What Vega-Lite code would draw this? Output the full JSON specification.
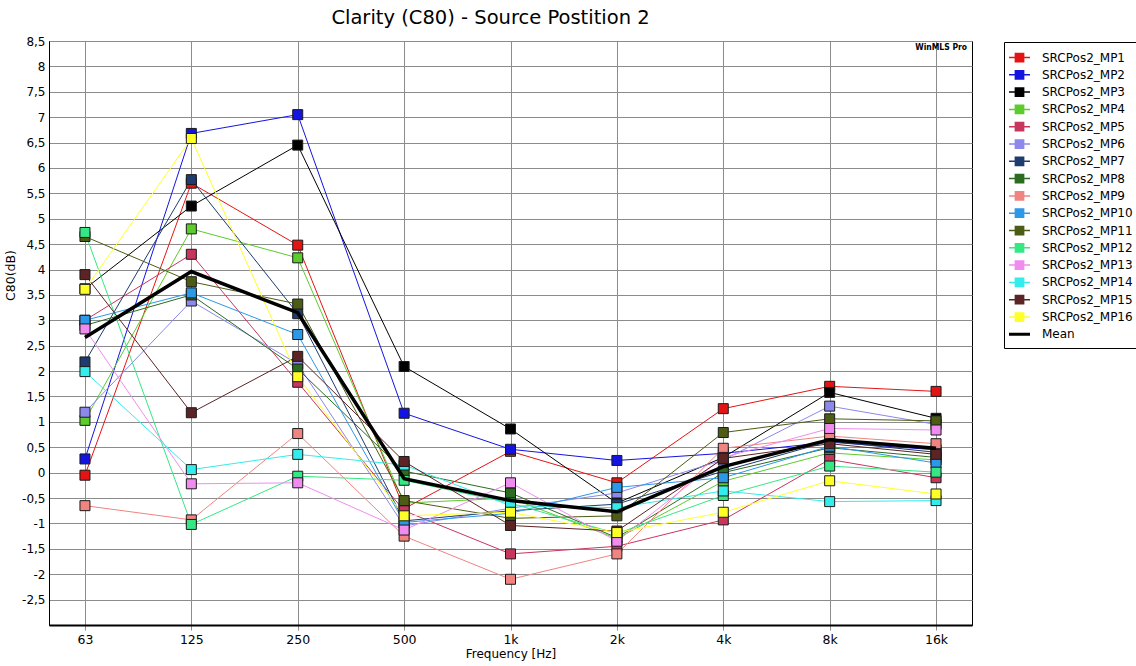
{
  "$schema": "https://vega.github.io/schema/vega-lite/v6.json",
  "width": 923,
  "height": 584,
  "autosize": "none",
  "padding": {"left": 49, "top": 41, "right": 164, "bottom": 41},
  "background": "white",
  "title": {"text": "Clarity (C80) - Source Postition 2", "font": "DejaVu Sans", "fontSize": 19.5, "fontWeight": "normal", "color": "black", "anchor": "middle", "offset": 7, "dx": -20},
  "data": {"values": [
    {"s":"SRCPos2_MP1","f":"63","v":-0.05},{"s":"SRCPos2_MP1","f":"125","v":5.7},{"s":"SRCPos2_MP1","f":"250","v":4.48},{"s":"SRCPos2_MP1","f":"500","v":-0.71},{"s":"SRCPos2_MP1","f":"1k","v":0.42},{"s":"SRCPos2_MP1","f":"2k","v":-0.2},{"s":"SRCPos2_MP1","f":"4k","v":1.26},{"s":"SRCPos2_MP1","f":"8k","v":1.7},{"s":"SRCPos2_MP1","f":"16k","v":1.6},
    {"s":"SRCPos2_MP2","f":"63","v":0.27},{"s":"SRCPos2_MP2","f":"125","v":6.68},{"s":"SRCPos2_MP2","f":"250","v":7.05},{"s":"SRCPos2_MP2","f":"500","v":1.17},{"s":"SRCPos2_MP2","f":"1k","v":0.46},{"s":"SRCPos2_MP2","f":"2k","v":0.24},{"s":"SRCPos2_MP2","f":"4k","v":0.38},{"s":"SRCPos2_MP2","f":"8k","v":0.6},{"s":"SRCPos2_MP2","f":"16k","v":0.45},
    {"s":"SRCPos2_MP3","f":"63","v":3.62},{"s":"SRCPos2_MP3","f":"125","v":5.25},{"s":"SRCPos2_MP3","f":"250","v":6.45},{"s":"SRCPos2_MP3","f":"500","v":2.09},{"s":"SRCPos2_MP3","f":"1k","v":0.86},{"s":"SRCPos2_MP3","f":"2k","v":-0.6},{"s":"SRCPos2_MP3","f":"4k","v":0.3},{"s":"SRCPos2_MP3","f":"8k","v":1.58},{"s":"SRCPos2_MP3","f":"16k","v":1.07},
    {"s":"SRCPos2_MP4","f":"63","v":1.03},{"s":"SRCPos2_MP4","f":"125","v":4.8},{"s":"SRCPos2_MP4","f":"250","v":4.23},{"s":"SRCPos2_MP4","f":"500","v":-0.6},{"s":"SRCPos2_MP4","f":"1k","v":-0.5},{"s":"SRCPos2_MP4","f":"2k","v":-1.3},{"s":"SRCPos2_MP4","f":"4k","v":-0.17},{"s":"SRCPos2_MP4","f":"8k","v":0.39},{"s":"SRCPos2_MP4","f":"16k","v":0.25},
    {"s":"SRCPos2_MP5","f":"63","v":3.0},{"s":"SRCPos2_MP5","f":"125","v":4.3},{"s":"SRCPos2_MP5","f":"250","v":1.78},{"s":"SRCPos2_MP5","f":"500","v":-0.75},{"s":"SRCPos2_MP5","f":"1k","v":-1.6},{"s":"SRCPos2_MP5","f":"2k","v":-1.45},{"s":"SRCPos2_MP5","f":"4k","v":-0.93},{"s":"SRCPos2_MP5","f":"8k","v":0.26},{"s":"SRCPos2_MP5","f":"16k","v":-0.1},
    {"s":"SRCPos2_MP6","f":"63","v":1.19},{"s":"SRCPos2_MP6","f":"125","v":3.38},{"s":"SRCPos2_MP6","f":"250","v":2.14},{"s":"SRCPos2_MP6","f":"500","v":-1.05},{"s":"SRCPos2_MP6","f":"1k","v":-0.7},{"s":"SRCPos2_MP6","f":"2k","v":-0.4},{"s":"SRCPos2_MP6","f":"4k","v":0.25},{"s":"SRCPos2_MP6","f":"8k","v":1.31},{"s":"SRCPos2_MP6","f":"16k","v":0.95},
    {"s":"SRCPos2_MP7","f":"63","v":2.18},{"s":"SRCPos2_MP7","f":"125","v":5.77},{"s":"SRCPos2_MP7","f":"250","v":3.13},{"s":"SRCPos2_MP7","f":"500","v":-0.95},{"s":"SRCPos2_MP7","f":"1k","v":-0.75},{"s":"SRCPos2_MP7","f":"2k","v":-0.62},{"s":"SRCPos2_MP7","f":"4k","v":0.03},{"s":"SRCPos2_MP7","f":"8k","v":0.62},{"s":"SRCPos2_MP7","f":"16k","v":0.4},
    {"s":"SRCPos2_MP8","f":"63","v":2.9},{"s":"SRCPos2_MP8","f":"125","v":3.5},{"s":"SRCPos2_MP8","f":"250","v":2.04},{"s":"SRCPos2_MP8","f":"500","v":0.03},{"s":"SRCPos2_MP8","f":"1k","v":-0.4},{"s":"SRCPos2_MP8","f":"2k","v":-1.28},{"s":"SRCPos2_MP8","f":"4k","v":0.0},{"s":"SRCPos2_MP8","f":"8k","v":0.49},{"s":"SRCPos2_MP8","f":"16k","v":0.3},
    {"s":"SRCPos2_MP9","f":"63","v":-0.65},{"s":"SRCPos2_MP9","f":"125","v":-0.93},{"s":"SRCPos2_MP9","f":"250","v":0.77},{"s":"SRCPos2_MP9","f":"500","v":-1.25},{"s":"SRCPos2_MP9","f":"1k","v":-2.1},{"s":"SRCPos2_MP9","f":"2k","v":-1.6},{"s":"SRCPos2_MP9","f":"4k","v":0.48},{"s":"SRCPos2_MP9","f":"8k","v":0.72},{"s":"SRCPos2_MP9","f":"16k","v":0.57},
    {"s":"SRCPos2_MP10","f":"63","v":3.0},{"s":"SRCPos2_MP10","f":"125","v":3.54},{"s":"SRCPos2_MP10","f":"250","v":2.72},{"s":"SRCPos2_MP10","f":"500","v":-0.98},{"s":"SRCPos2_MP10","f":"1k","v":-0.8},{"s":"SRCPos2_MP10","f":"2k","v":-0.29},{"s":"SRCPos2_MP10","f":"4k","v":-0.1},{"s":"SRCPos2_MP10","f":"8k","v":0.52},{"s":"SRCPos2_MP10","f":"16k","v":0.19},
    {"s":"SRCPos2_MP11","f":"63","v":4.65},{"s":"SRCPos2_MP11","f":"125","v":3.76},{"s":"SRCPos2_MP11","f":"250","v":3.32},{"s":"SRCPos2_MP11","f":"500","v":-0.55},{"s":"SRCPos2_MP11","f":"1k","v":-0.9},{"s":"SRCPos2_MP11","f":"2k","v":-0.85},{"s":"SRCPos2_MP11","f":"4k","v":0.79},{"s":"SRCPos2_MP11","f":"8k","v":1.06},{"s":"SRCPos2_MP11","f":"16k","v":1.02},
    {"s":"SRCPos2_MP12","f":"63","v":4.73},{"s":"SRCPos2_MP12","f":"125","v":-1.02},{"s":"SRCPos2_MP12","f":"250","v":-0.07},{"s":"SRCPos2_MP12","f":"500","v":-0.15},{"s":"SRCPos2_MP12","f":"1k","v":-0.6},{"s":"SRCPos2_MP12","f":"2k","v":-1.2},{"s":"SRCPos2_MP12","f":"4k","v":-0.45},{"s":"SRCPos2_MP12","f":"8k","v":0.13},{"s":"SRCPos2_MP12","f":"16k","v":0.01},
    {"s":"SRCPos2_MP13","f":"63","v":2.83},{"s":"SRCPos2_MP13","f":"125","v":-0.22},{"s":"SRCPos2_MP13","f":"250","v":-0.2},{"s":"SRCPos2_MP13","f":"500","v":-1.13},{"s":"SRCPos2_MP13","f":"1k","v":-0.2},{"s":"SRCPos2_MP13","f":"2k","v":-1.35},{"s":"SRCPos2_MP13","f":"4k","v":0.3},{"s":"SRCPos2_MP13","f":"8k","v":0.87},{"s":"SRCPos2_MP13","f":"16k","v":0.84},
    {"s":"SRCPos2_MP14","f":"63","v":1.99},{"s":"SRCPos2_MP14","f":"125","v":0.06},{"s":"SRCPos2_MP14","f":"250","v":0.36},{"s":"SRCPos2_MP14","f":"500","v":0.15},{"s":"SRCPos2_MP14","f":"1k","v":-0.65},{"s":"SRCPos2_MP14","f":"2k","v":-0.69},{"s":"SRCPos2_MP14","f":"4k","v":-0.36},{"s":"SRCPos2_MP14","f":"8k","v":-0.57},{"s":"SRCPos2_MP14","f":"16k","v":-0.55},
    {"s":"SRCPos2_MP15","f":"63","v":3.9},{"s":"SRCPos2_MP15","f":"125","v":1.18},{"s":"SRCPos2_MP15","f":"250","v":2.29},{"s":"SRCPos2_MP15","f":"500","v":0.22},{"s":"SRCPos2_MP15","f":"1k","v":-1.04},{"s":"SRCPos2_MP15","f":"2k","v":-1.15},{"s":"SRCPos2_MP15","f":"4k","v":0.28},{"s":"SRCPos2_MP15","f":"8k","v":0.57},{"s":"SRCPos2_MP15","f":"16k","v":0.36},
    {"s":"SRCPos2_MP16","f":"63","v":3.61},{"s":"SRCPos2_MP16","f":"125","v":6.58},{"s":"SRCPos2_MP16","f":"250","v":1.89},{"s":"SRCPos2_MP16","f":"500","v":-0.85},{"s":"SRCPos2_MP16","f":"1k","v":-0.78},{"s":"SRCPos2_MP16","f":"2k","v":-1.18},{"s":"SRCPos2_MP16","f":"4k","v":-0.78},{"s":"SRCPos2_MP16","f":"8k","v":-0.16},{"s":"SRCPos2_MP16","f":"16k","v":-0.42},
    {"s":"Mean","f":"63","v":2.66},{"s":"Mean","f":"125","v":3.96},{"s":"Mean","f":"250","v":3.15},{"s":"Mean","f":"500","v":-0.12},{"s":"Mean","f":"1k","v":-0.55},{"s":"Mean","f":"2k","v":-0.77},{"s":"Mean","f":"4k","v":0.12},{"s":"Mean","f":"8k","v":0.65},{"s":"Mean","f":"16k","v":0.48}
  ]},
  "encoding": {
    "x": {"field": "f", "type": "nominal", "sort": ["63","125","250","500","1k","2k","4k","8k","16k"],
      "scale": {"type": "point", "padding": 0.338},
      "axis": {"title": "Frequency [Hz]", "labelAngle": 0, "grid": true, "gridColor": "#8c8c8c", "gridOpacity": 1, "domainColor": "black", "domainWidth": 2, "tickColor": "#8c8c8c", "tickSize": 5, "labelPadding": 3, "labelFont": "DejaVu Sans", "labelFontSize": 12.5, "labelColor": "black", "titleFont": "DejaVu Sans", "titleFontSize": 12, "titleFontWeight": "normal", "titleColor": "black", "titlePadding": 3}},
    "y": {"field": "v", "type": "quantitative",
      "scale": {"domain": [-3, 8.5], "nice": false, "zero": false},
      "axis": {"title": "C80(dB)", "values": [-2.5,-2,-1.5,-1,-0.5,0,0.5,1,1.5,2,2.5,3,3.5,4,4.5,5,5.5,6,6.5,7,7.5,8,8.5],
        "labelExpr": "replace(toString(datum.value), '.', ',')", "grid": true, "gridColor": "#8c8c8c", "gridOpacity": 1, "ticks": false, "domainColor": "black", "labelPadding": 4, "labelFont": "DejaVu Sans", "labelFontSize": 12, "labelColor": "black", "titleFont": "DejaVu Sans", "titleFontSize": 12.5, "titleFontWeight": "normal", "titleColor": "black", "titlePadding": 4, "titleY": 234}}
  },
  "layer": [
    {
      "transform": [{"filter": "datum.s !== 'Mean'"}],
      "mark": {"type": "line", "strokeWidth": 1, "opacity": 1},
      "encoding": {
        "color": {"field": "s", "type": "nominal",
          "scale": {"domain": ["SRCPos2_MP1","SRCPos2_MP2","SRCPos2_MP3","SRCPos2_MP4","SRCPos2_MP5","SRCPos2_MP6","SRCPos2_MP7","SRCPos2_MP8","SRCPos2_MP9","SRCPos2_MP10","SRCPos2_MP11","SRCPos2_MP12","SRCPos2_MP13","SRCPos2_MP14","SRCPos2_MP15","SRCPos2_MP16","Mean"],
            "range": ["#e41414","#1414e0","#000000","#5ccc2c","#c8365e","#8c88ec","#1e3c6e","#2c6c20","#f08480","#2c98e8","#4c5c14","#34e884","#f08cf0","#34ecec","#5c2424","#ffff28","#000000"]}}
      }
    },
    {
      "transform": [{"filter": "datum.s !== 'Mean'"}],
      "mark": {"type": "point", "shape": "square", "filled": true, "size": 100, "stroke": "#1a1a1a", "strokeWidth": 1, "opacity": 1},
      "encoding": {"color": {"field": "s", "type": "nominal"}}
    },
    {
      "transform": [{"filter": "datum.s === 'Mean'"}],
      "mark": {"type": "line", "strokeWidth": 3.5, "color": "black"},
      "encoding": {}
    },
    {
      "transform": [{"filter": "datum.s === 'nothing'"}],
      "mark": {"type": "point", "filled": true, "opacity": 1},
      "encoding": {
        "color": {"field": "s", "type": "nominal",
          "legend": {"title": null, "orient": "none", "legendX": 955, "legendY": 1, "direction": "vertical",
            "strokeColor": "black", "fillColor": "white", "padding": 7, "rowPadding": 1.3,
            "symbolSize": 225, "symbolOpacity": 1, "labelOffset": 14, "labelFont": "DejaVu Sans", "labelFontSize": 12, "labelColor": "black", "labelLimit": 200}},
        "stroke": {"field": "s", "type": "nominal",
          "scale": {"domain": ["SRCPos2_MP1","SRCPos2_MP2","SRCPos2_MP3","SRCPos2_MP4","SRCPos2_MP5","SRCPos2_MP6","SRCPos2_MP7","SRCPos2_MP8","SRCPos2_MP9","SRCPos2_MP10","SRCPos2_MP11","SRCPos2_MP12","SRCPos2_MP13","SRCPos2_MP14","SRCPos2_MP15","SRCPos2_MP16","Mean"],
            "range": ["#e41414","#1414e0","#000000","#5ccc2c","#c8365e","#8c88ec","#1e3c6e","#2c6c20","#f08480","#2c98e8","#4c5c14","#34e884","#f08cf0","#34ecec","#5c2424","#ffff28","#000000"]}},
        "shape": {"field": "s", "type": "nominal",
          "scale": {"domain": ["SRCPos2_MP1","SRCPos2_MP2","SRCPos2_MP3","SRCPos2_MP4","SRCPos2_MP5","SRCPos2_MP6","SRCPos2_MP7","SRCPos2_MP8","SRCPos2_MP9","SRCPos2_MP10","SRCPos2_MP11","SRCPos2_MP12","SRCPos2_MP13","SRCPos2_MP14","SRCPos2_MP15","SRCPos2_MP16","Mean"],
            "range": ["M-1.4,0H-0.55M0.55,0H1.4M-0.55,-0.55H0.55V0.55H-0.55Z","M-1.4,0H-0.55M0.55,0H1.4M-0.55,-0.55H0.55V0.55H-0.55Z","M-1.4,0H-0.55M0.55,0H1.4M-0.55,-0.55H0.55V0.55H-0.55Z","M-1.4,0H-0.55M0.55,0H1.4M-0.55,-0.55H0.55V0.55H-0.55Z","M-1.4,0H-0.55M0.55,0H1.4M-0.55,-0.55H0.55V0.55H-0.55Z","M-1.4,0H-0.55M0.55,0H1.4M-0.55,-0.55H0.55V0.55H-0.55Z","M-1.4,0H-0.55M0.55,0H1.4M-0.55,-0.55H0.55V0.55H-0.55Z","M-1.4,0H-0.55M0.55,0H1.4M-0.55,-0.55H0.55V0.55H-0.55Z","M-1.4,0H-0.55M0.55,0H1.4M-0.55,-0.55H0.55V0.55H-0.55Z","M-1.4,0H-0.55M0.55,0H1.4M-0.55,-0.55H0.55V0.55H-0.55Z","M-1.4,0H-0.55M0.55,0H1.4M-0.55,-0.55H0.55V0.55H-0.55Z","M-1.4,0H-0.55M0.55,0H1.4M-0.55,-0.55H0.55V0.55H-0.55Z","M-1.4,0H-0.55M0.55,0H1.4M-0.55,-0.55H0.55V0.55H-0.55Z","M-1.4,0H-0.55M0.55,0H1.4M-0.55,-0.55H0.55V0.55H-0.55Z","M-1.4,0H-0.55M0.55,0H1.4M-0.55,-0.55H0.55V0.55H-0.55Z","M-1.4,0H-0.55M0.55,0H1.4M-0.55,-0.55H0.55V0.55H-0.55Z","M-1.4,0H1.4M-1.4,0.1H1.4M-1.4,-0.1H1.4"]}}
      }
    },
    {
      "transform": [{"filter": "datum.s === 'Mean' && datum.f === '16k'"}],
      "mark": {"type": "text", "font": "DejaVu Sans Condensed", "fontSize": 8.5, "fontWeight": "bold", "align": "right", "baseline": "middle", "dx": 31, "fill": "black", "text": "WinMLS Pro"},
      "encoding": {"y": {"datum": 8.38}}
    }
  ],
  "config": {
    "view": {"stroke": "black", "strokeWidth": 1},
    "axis": {"gridWidth": 1}
  }
}
